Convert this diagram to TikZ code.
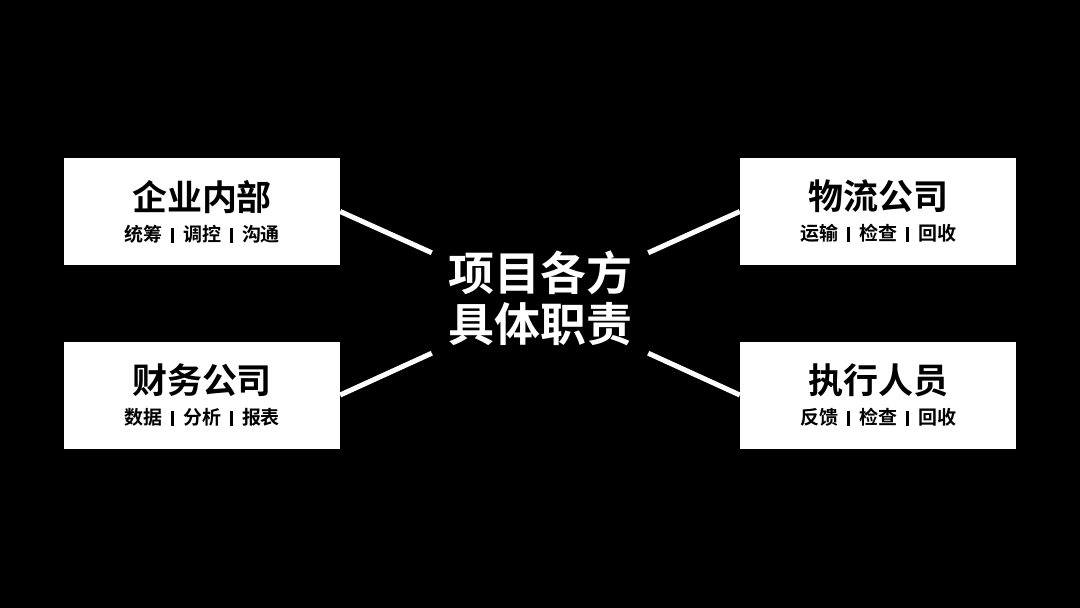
\documentclass[tikz,border=0pt]{standalone}
\usepackage{fontspec}
\setmainfont{Noto Sans CJK SC}[BoldFont={Noto Sans CJK SC Bold}]
\usetikzlibrary{positioning}
\definecolor{pagebg}{HTML}{000000}
\definecolor{cardfill}{HTML}{FFFFFF}
\tikzset{
  card/.style={fill=cardfill, minimum width=276pt, minimum height=107pt,
               inner sep=0pt, align=center, text=black,
               font=\bfseries\fontsize{19}{31}\selectfont},
  hub/.style={minimum width=216pt, minimum height=100pt, inner sep=0pt,
              align=center, text=white,
              font=\bfseries\fontsize{46}{51}\selectfont},
  spoke/.style={draw=white, line width=5pt},
}
\newcommand{\cardhead}[1]{{\fontsize{35}{31}\selectfont #1}}
\newcommand{\sepbar}{\hspace{9pt}\rule[-1.5pt]{3pt}{15pt}\hspace{9pt}}

\begin{document}
\begin{tikzpicture}[x=1pt, y=-1pt]
\fill[pagebg] (0,0) rectangle (1080,608);
\useasboundingbox (0,0) rectangle (1080,608);

\node[hub] (hub) at (540,298) {项目各方\\具体职责};

\node[card] (inner) at (202,211.5) {\cardhead{企业内部}\\统筹\sepbar 调控\sepbar 沟通};
\node[card] (finance) at (202,395) {\cardhead{财务公司}\\数据\sepbar 分析\sepbar 报表};
\node[card] (logistics) at (878,211.5) {\cardhead{物流公司}\\运输\sepbar 检查\sepbar 回收};
\node[card] (staff) at (878,395) {\cardhead{执行人员}\\反馈\sepbar 检查\sepbar 回收};

\draw[spoke] (inner.east) -- ([yshift=-5pt]hub.north west);
\draw[spoke] (finance.east) -- ([yshift=-5pt]hub.south west);
\draw[spoke] (logistics.west) -- ([yshift=-5pt]hub.north east);
\draw[spoke] (staff.west) -- ([yshift=-5pt]hub.south east);
\end{tikzpicture}
\end{document}
